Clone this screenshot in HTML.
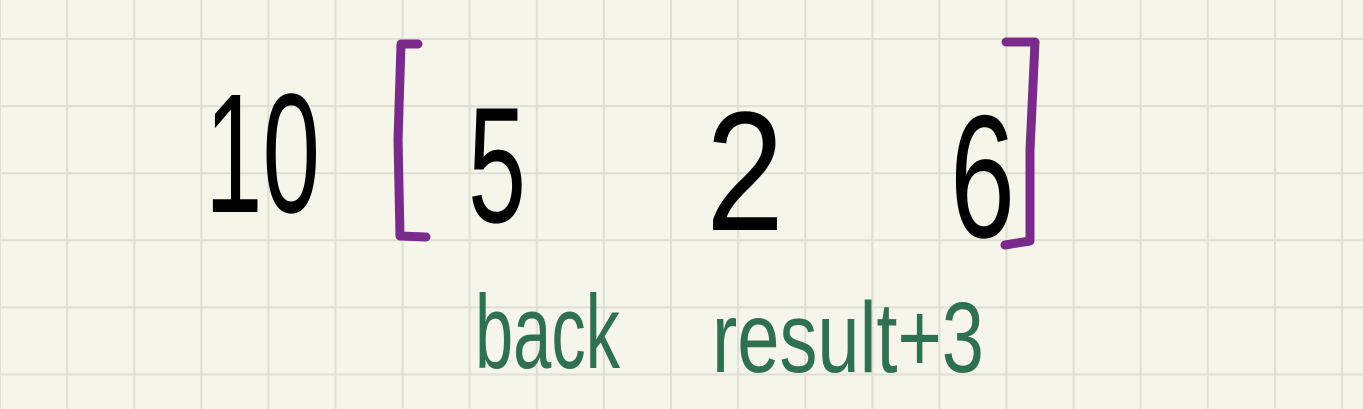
<!DOCTYPE html>
<html><head><meta charset="utf-8"><style>
html,body{margin:0;padding:0;width:1363px;height:409px;overflow:hidden;background:#f5f5ea}
svg{display:block}
</style></head><body>
<svg width="1363" height="409" viewBox="0 0 1363 409">
<rect width="1363" height="409" fill="#f5f5ea"/>
<g id="grid" stroke="#e0dfd3" stroke-width="2"></g>
<g font-family="Liberation Sans, sans-serif" fill="#000">
<text x="205" y="212" font-size="170" textLength="115" lengthAdjust="spacingAndGlyphs">10</text>
<text x="468" y="222" font-size="165" textLength="58" lengthAdjust="spacingAndGlyphs">5</text>
<text x="706" y="230" font-size="170" textLength="78" lengthAdjust="spacingAndGlyphs">2</text>
<text x="950" y="237" font-size="175" textLength="65" lengthAdjust="spacingAndGlyphs">6</text>
</g>
<g stroke="#7a2a8a" stroke-width="9" fill="none" stroke-linecap="round" stroke-linejoin="round">
<path d="M418 44 L401 44 L398 140 L400 236 L426 237"/>
<path d="M1006 42 L1035 42 L1030 150 L1030 241 L1005 245"/>
</g>
<g font-family="Liberation Sans, sans-serif" fill="#2e7050">
<text x="475" y="368" font-size="105" textLength="145" lengthAdjust="spacingAndGlyphs">back</text>
<text x="712" y="372" font-size="100" textLength="272" lengthAdjust="spacingAndGlyphs">result+3</text>
</g>
</svg>
<script>
var g=document.getElementById('grid');
for(var x=0;x<=1363;x+=67.1){var l=document.createElementNS('http://www.w3.org/2000/svg','line');
l.setAttribute('x1',x);l.setAttribute('x2',x);l.setAttribute('y1',0);l.setAttribute('y2',409);


g.appendChild(l);}
for(var y=39;y<=409;y+=67.1){var l2=document.createElementNS('http://www.w3.org/2000/svg','line');
l2.setAttribute('x1',0);l2.setAttribute('x2',1363);l2.setAttribute('y1',y);l2.setAttribute('y2',y);


g.appendChild(l2);}
</script>
</body></html>
